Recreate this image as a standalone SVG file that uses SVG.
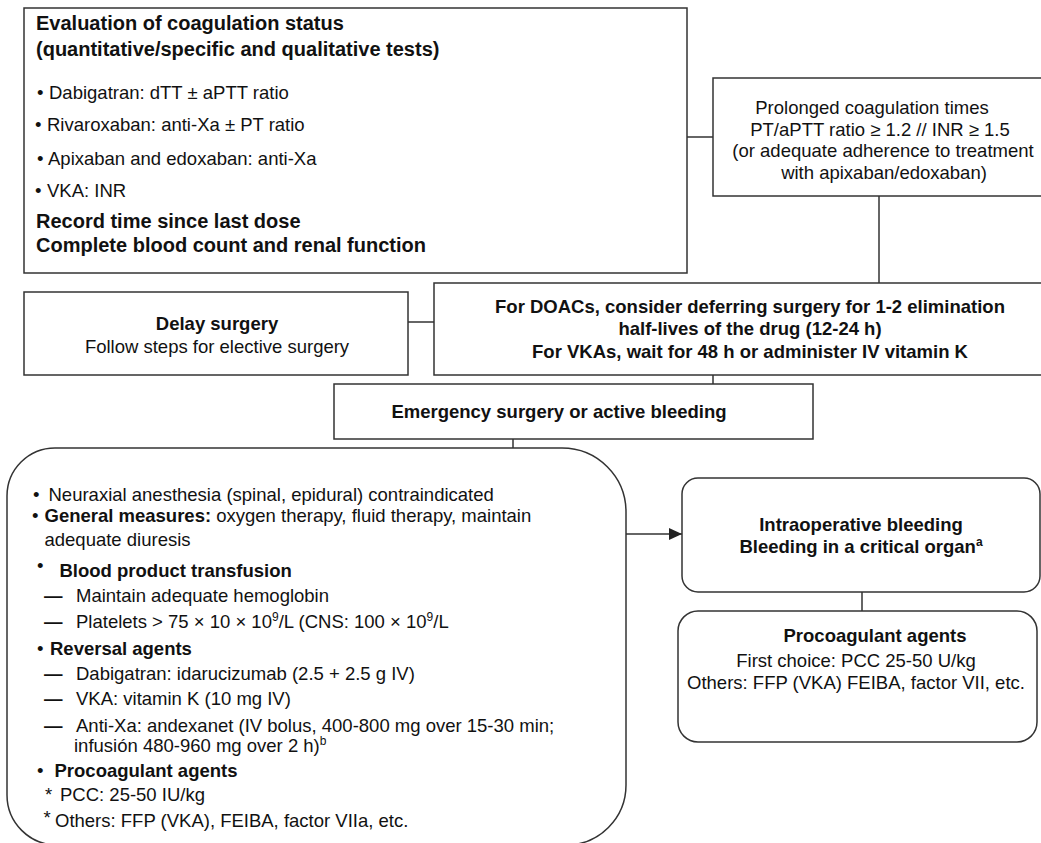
<svg xmlns="http://www.w3.org/2000/svg" width="1041" height="843" viewBox="0 0 1041 843">
<style>
.box{fill:#fff;stroke:#333;stroke-width:1.5}
.ln{stroke:#333;stroke-width:1.5;fill:none}
text{font-family:"Liberation Sans",Arial,Helvetica,sans-serif;font-size:18.5px;fill:#111}
.b{font-weight:bold}
.h{font-size:20px;font-weight:bold}
.m{text-anchor:middle}
.sup{font-size:12px}
.d{font-weight:bold}
</style>
<defs>
<marker id="arr" markerWidth="13" markerHeight="12" refX="13" refY="6" orient="auto" markerUnits="userSpaceOnUse">
<path d="M0,0 L13,6 L0,12 z" fill="#222"/>
</marker>
</defs>
<rect width="1041" height="843" fill="#fff"/>

<g id="connectors">
<line class="ln" x1="687" y1="137" x2="713" y2="137"/>
<line class="ln" x1="879" y1="196" x2="879" y2="283"/>
<line class="ln" x1="408" y1="322" x2="434" y2="322"/>
<line class="ln" x1="713" y1="375" x2="713" y2="384"/>
<line class="ln" x1="513" y1="439" x2="513" y2="448"/>
<line class="ln" x1="626" y1="534" x2="682" y2="534" marker-end="url(#arr)"/>
<line class="ln" x1="862" y1="592" x2="862" y2="611"/>
</g>

<g id="evaluation">
<rect class="box" x="24" y="8" width="663" height="265"/>
<text class="h" x="36" y="30">Evaluation of coagulation status</text>
<text class="h" x="36" y="56">(quantitative/specific and qualitative tests)</text>
<text><tspan x="37" y="99">•</tspan><tspan x="49">Dabigatran: dTT ± aPTT ratio</tspan></text>
<text><tspan x="35" y="131">•</tspan><tspan x="47">Rivaroxaban: anti-Xa ± PT ratio</tspan></text>
<text><tspan x="37" y="164.5">•</tspan><tspan x="48">Apixaban and edoxaban: anti-Xa</tspan></text>
<text><tspan x="35" y="196.5">•</tspan><tspan x="47">VKA: INR</tspan></text>
<text class="h" x="36" y="228">Record time since last dose</text>
<text class="h" x="36" y="252">Complete blood count and renal function</text>
</g>

<g id="prolonged">
<rect class="box" x="713" y="78" width="335" height="118"/>
<text class="m" x="872" y="114">Prolonged coagulation times</text>
<text class="m" x="880" y="135.5">PT/aPTT ratio ≥ 1.2 // INR ≥ 1.5</text>
<text class="m" x="883" y="157">(or adequate adherence to treatment</text>
<text class="m" x="884" y="178.5">with apixaban/edoxaban)</text>
</g>

<g id="delay">
<rect class="box" x="24" y="292" width="384" height="83"/>
<text class="b m" x="217" y="330">Delay surgery</text>
<text class="m" x="217" y="353">Follow steps for elective surgery</text>
</g>

<g id="doacs">
<rect class="box" x="434" y="283" width="632" height="92"/>
<text class="b m" x="750" y="312.5">For DOACs, consider deferring surgery for 1-2 elimination</text>
<text class="b m" x="750" y="335">half-lives of the drug (12-24 h)</text>
<text class="b m" x="750" y="357.5">For VKAs, wait for 48 h or administer IV vitamin K</text>
</g>

<g id="emergency">
<rect class="box" x="334" y="384" width="479" height="55"/>
<text class="b m" x="559" y="418">Emergency surgery or active bleeding</text>
</g>

<g id="measures">
<path class="box" d="M55,448 H562 A64,64 0 0 1 626,512 V785 A60,60 0 0 1 566,845 H57 A50,50 0 0 1 7,795 V496 A48,48 0 0 1 55,448 Z"/>
<text><tspan x="33" y="501">•</tspan><tspan x="48.5">Neuraxial anesthesia (spinal, epidural) contraindicated</tspan></text>
<text><tspan x="32" y="522">•</tspan><tspan x="44.5" class="b">General measures:</tspan><tspan> oxygen therapy, fluid therapy, maintain</tspan></text>
<text x="44.5" y="546">adequate diuresis</text>
<text><tspan x="37" y="571.5">•</tspan><tspan x="59.5" y="577" class="b">Blood product transfusion</tspan></text>
<text><tspan x="44" y="602" class="d">—</tspan><tspan x="76">Maintain adequate hemoglobin</tspan></text>
<text><tspan x="44" y="628" class="d">—</tspan><tspan x="76">Platelets &gt; 75 × 10 × 10</tspan><tspan class="sup" dy="-7">9</tspan><tspan dy="7">/L (CNS: 100 × 10</tspan><tspan class="sup" dy="-7">9</tspan><tspan dy="7">/L</tspan></text>
<text><tspan x="37" y="655">•</tspan><tspan x="50" class="b">Reversal agents</tspan></text>
<text><tspan x="44" y="679.5" class="d">—</tspan><tspan x="76">Dabigatran: idarucizumab (2.5 + 2.5 g IV)</tspan></text>
<text><tspan x="44" y="705" class="d">—</tspan><tspan x="76">VKA: vitamin K (10 mg IV)</tspan></text>
<text><tspan x="44" y="731.5" class="d">—</tspan><tspan x="76">Anti-Xa: andexanet (IV bolus, 400-800 mg over 15-30 min;</tspan></text>
<text><tspan x="74" y="752">infusión 480-960 mg over 2 h)</tspan><tspan class="sup" dy="-7">b</tspan></text>
<text><tspan x="37" y="777">•</tspan><tspan x="54.5" class="b">Procoagulant agents</tspan></text>
<text><tspan x="45" y="801">*</tspan><tspan x="60">PCC: 25-50 IU/kg</tspan></text>
<text><tspan x="43.5" y="824">*</tspan><tspan x="55" y="827">Others: FFP (VKA), FEIBA, factor VIIa, etc.</tspan></text>
</g>

<g id="intraoperative">
<rect class="box" x="682" y="478" width="358" height="114" rx="16" ry="16"/>
<text class="b m" x="861" y="531">Intraoperative bleeding</text>
<text class="b m" x="861" y="552.5"><tspan>Bleeding in a critical organ</tspan><tspan class="sup" dy="-7">a</tspan></text>
</g>

<g id="procoagulant">
<rect class="box" x="678" y="611" width="359" height="131" rx="20" ry="20"/>
<text class="b m" x="875" y="642">Procoagulant agents</text>
<text class="m" x="856" y="667">First choice: PCC 25-50 U/kg</text>
<text class="m" x="856" y="689">Others: FFP (VKA) FEIBA, factor VII, etc.</text>
</g>
</svg>
